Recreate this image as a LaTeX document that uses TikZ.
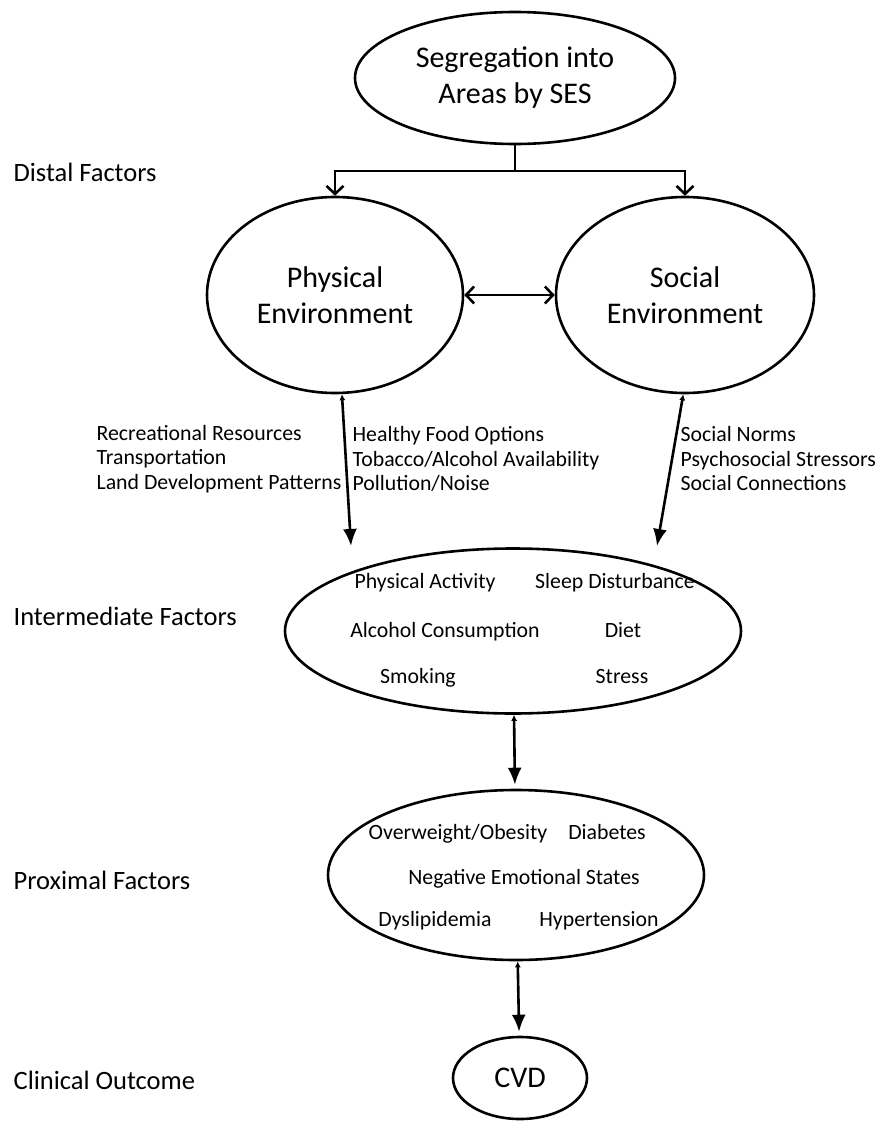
\documentclass[tikz,border=0pt]{standalone}
\usepackage{fontspec}
\setmainfont{Carlito}
\usetikzlibrary{shapes.geometric,arrows.meta}

\begin{document}
\begin{tikzpicture}[x=1pt,y=-1pt,line width=2.6pt,
  oval/.style={ellipse,draw,align=center,inner sep=0pt},
  big/.style={font=\fontsize{30}{36}\selectfont},
  item/.style={font=\fontsize{21.8}{24.5}\selectfont},
  word/.style={item,text height=0.7em,text depth=0.22em,yshift=-4pt},
  level/.style={font=\fontsize{26.5}{30}\selectfont,anchor=west},
  barb/.style={-{Straight Barb[length=8pt,width=17pt,line width=2.6pt]}},
  twin/.style={{Straight Barb[length=8pt,width=17pt,line width=2.6pt]}-{Straight Barb[length=8pt,width=17pt,line width=2.6pt]}},
  duo/.style={{Latex[length=6pt,width=6pt]}-{Latex[length=17pt,width=14pt]}}]
\useasboundingbox (0,0) rectangle (881,1124);
% ellipses
\node[oval,big,minimum width=320,minimum height=132] (SEG) at (515,78) {Segregation into\\Areas by SES};
\node[oval,big,minimum width=256,minimum height=196] (PHYS) at (335,295) {Physical\\Environment};
\node[oval,big,minimum width=258,minimum height=196] (SOC) at (685,295) {Social\\Environment};
\node[oval,minimum width=456,minimum height=165] (INT) at (513,631) {};
\node[oval,minimum width=376,minimum height=170] (PROX) at (516,875) {};
\node[oval,big,minimum width=134,minimum height=82] (CVD) at (520,1078) {CVD};
% levels
\node[level] (distal) at (9,172) {Distal Factors};
\node[level] (inter) at (9,616) {Intermediate Factors};
\node[level] (proxl) at (9,880) {Proximal Factors};
\node[level] (clin) at (9,1080) {Clinical Outcome};
% environment items
\node[item,align=left,anchor=west] (physA) at (92,459) {Recreational Resources\\Transportation\\Land Development Patterns};
\node[item,align=left,anchor=west] (physB) at (348,459) {Healthy Food Options\\Tobacco/Alcohol Availability\\Pollution/Noise};
\node[item,align=left,anchor=west] (socA) at (676,459) {Social Norms\\Psychosocial Stressors\\Social Connections};
% intermediate items
\node[word] (act) at (425,582) {Physical Activity};
\node[word] (sleep) at (615,582) {Sleep Disturbance};
\node[word] (alc) at (445,631) {Alcohol Consumption};
\node[word] (diet) at (623,631) {Diet};
\node[word] (smok) at (418,677) {Smoking};
\node[word] (stress) at (622,677) {Stress};
% proximal items
\node[word] (obes) at (458,833) {Overweight/Obesity};
\node[word] (diab) at (607,833) {Diabetes};
\node[word] (neg) at (524,878) {Negative Emotional States};
\node[word] (dysl) at (435,920) {Dyslipidemia};
\node[word] (hyp) at (599,920) {Hypertension};
% connectors
\coordinate (split) at (515,171);
\coordinate (physEnd) at (351,546);
\coordinate (socEnd) at (657,546);
\draw (SEG) -- (split);
\draw[barb] (split) -| (PHYS);
\draw[barb] (split) -| (SOC);
\draw[twin] (PHYS) -- (SOC);
\path[duo]
(PHYS.-86) edge (physEnd)
(SOC.-91) edge (socEnd)
(INT) edge[shorten >=4pt] (PROX)
(PROX) edge[shorten >=4pt] (CVD);
\end{tikzpicture}
\end{document}
